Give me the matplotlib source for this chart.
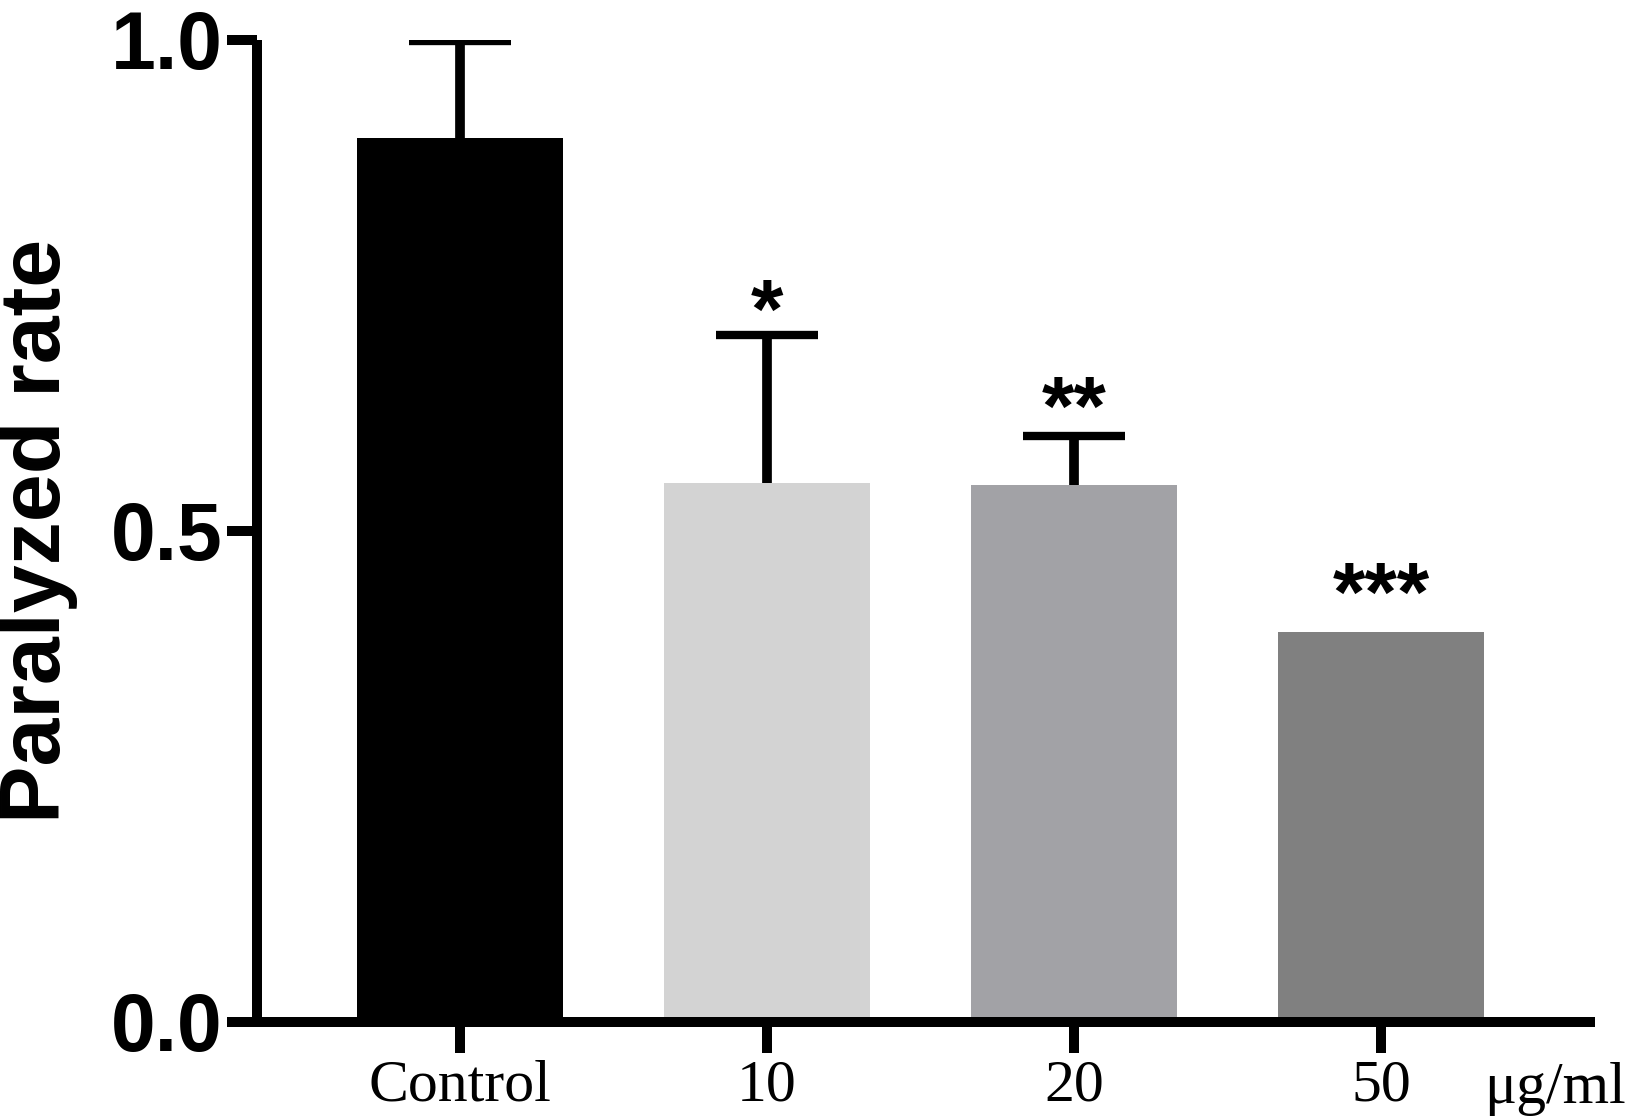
import matplotlib
matplotlib.use('Agg')
import matplotlib.pyplot as plt

# data
groups = ['Control', '10', '20', '50']
rate = [0.900, 0.549, 0.547, 0.397]
err_up = [0.099, 0.151, 0.050, 0.0]
stars = ['', '*', '**', '***']
star_y = [0.0, 0.747, 0.648, 0.458]   # centre height of the asterisks
bar_colors = ['#000000', '#d3d3d3', '#a2a2a6', '#808080']

lw = 7.2  # axis / tick thickness in points

fig = plt.figure(figsize=(16.33, 11.2), dpi=100)
ax = fig.add_axes([0.1574, 0.0875, 0.8193, 0.8768])

x = list(range(len(groups)))
ax.bar(x, rate, width=0.668, color=bar_colors, edgecolor='none', zorder=2)

# upper error bars only (Prism style), skip groups without error
ex = [xi for xi, e in zip(x, err_up) if e > 0]
ey = [r for r, e in zip(rate, err_up) if e > 0]
ee = [e for e in err_up if e > 0]
_, caps, _ = ax.errorbar(ex, ey, yerr=[[0] * len(ee), ee], fmt='none',
                         ecolor='black', elinewidth=7, capsize=37,
                         capthick=6, zorder=3)
for c in caps:
    if list(c.get_ydata()) == ey:   # lower caps sit on the bar top
        c.set_visible(False)

# significance marks
for xi, s, sy in zip(x, stars, star_y):
    if s:
        ax.text(xi, sy - 0.05, s, ha='center', va='baseline',
                fontsize=60, fontweight='bold', family='Liberation Sans')

ax.set_xlim(-0.661, 3.697)
ax.set_ylim(0, 1.0)

for side in ['top', 'right']:
    ax.spines[side].set_visible(False)
for side in ['left', 'bottom']:
    ax.spines[side].set_linewidth(lw)
    ax.spines[side].set_capstyle('butt')

ax.set_yticks([0.0, 0.5, 1.0])
ax.set_yticklabels(['0.0', '0.5', '1.0'])
ax.set_xticks(x)
ax.set_xticklabels(groups)

ax.tick_params(axis='y', length=21.6, width=lw, pad=3, labelsize=58)
ax.tick_params(axis='x', length=22, width=lw, pad=5, labelsize=43)
for lab in ax.get_yticklabels():
    lab.set_fontweight('bold')
    lab.set_family('Liberation Sans')
for lab in ax.get_xticklabels():
    lab.set_family('Liberation Serif')

ax.set_ylabel('Paralyzed rate', fontsize=62, fontweight='bold',
              family='Liberation Sans')
ax.yaxis.set_label_coords(-0.134, 0.5)

# unit label after the last category
ax.annotate('μg/ml', xy=(3.336, 0), xycoords=('data', 'axes fraction'),
            xytext=(0, -58), textcoords='offset points', ha='left',
            va='baseline', fontsize=43, family='Liberation Serif',
            annotation_clip=False)

fig.savefig('out.png', dpi=100)
